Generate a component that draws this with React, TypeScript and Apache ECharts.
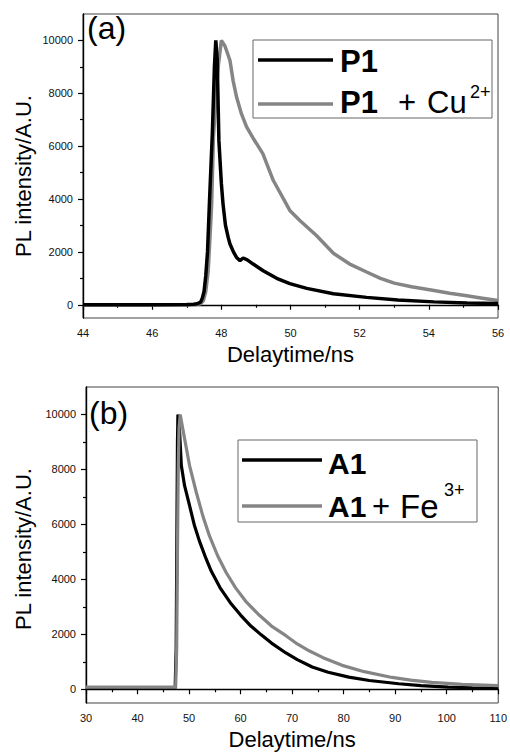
import React, { useEffect, useRef } from "react";
import * as echarts from "echarts";

// ---- Panel (a) data ----
const timeP1 = [44, 45, 46, 47, 47.2, 47.3, 47.4, 47.45, 47.5, 47.55, 47.6, 47.66, 47.74, 47.8, 47.84, 47.88, 47.93, 48.0, 48.05, 48.12, 48.2, 48.25, 48.35, 48.44, 48.54, 48.63, 48.75, 48.92, 49.21, 49.6, 49.98, 50.47, 51.24, 52.2, 53.1, 54.15, 55.1, 56];
const intP1 = [0, 0, 0, 10, 20, 40, 100, 250, 500, 1100, 2000, 4000, 6500, 9000, 10000, 9300, 6200, 4600, 3800, 3000, 2540, 2300, 2000, 1790, 1670, 1770, 1700, 1540, 1290, 1000, 800, 620, 420, 280, 180, 110, 70, 50];
const timeP1Cu = [44, 45, 46, 47, 47.3, 47.4, 47.48, 47.55, 47.62, 47.67, 47.72, 47.77, 47.85, 47.91, 48.0, 48.1, 48.15, 48.25, 48.34, 48.44, 48.58, 48.73, 48.92, 49.2, 49.5, 49.98, 50.27, 50.75, 51.24, 51.7, 52.2, 52.6, 53.0, 53.5, 54.15, 54.6, 55.1, 55.5, 56];
const intP1Cu = [0, 0, 0, 5, 15, 40, 150, 500, 1290, 2500, 3800, 6300, 8000, 9000, 10000, 9800, 9620, 9240, 8480, 7860, 7230, 6730, 6300, 5720, 4710, 3570, 3190, 2620, 1950, 1550, 1240, 1000, 820, 680, 540, 440, 340, 260, 160];

// ---- Panel (b) data ----
const timeA1 = [30, 35, 40, 45, 47.3, 47.5, 47.65, 47.75, 47.84, 48.16, 48.5, 49.13, 50.1, 51.06, 52.0, 53.3, 54.3, 56, 58, 60, 62, 64, 66, 68.8, 71, 73.9, 77, 81, 85, 90.7, 95, 100.3, 105, 110];
const intA1 = [40, 40, 40, 40, 40, 1500, 6000, 9000, 10000, 9370, 8140, 7410, 6680, 5950, 5400, 4750, 4300, 3700, 3150, 2700, 2300, 1980, 1680, 1320, 1080, 810, 620, 440, 320, 200, 130, 80, 55, 40];
const timeA1Fe = [30, 35, 40, 45, 47.4, 47.6, 47.75, 47.9, 48.05, 48.28, 49.13, 50.1, 51.4, 52.67, 53.96, 55.57, 57.2, 59, 61, 63.6, 66, 68.8, 71, 73.3, 76, 79.7, 84, 89.4, 93, 97.1, 103, 110];
const intA1Fe = [80, 80, 80, 80, 80, 1500, 5000, 8000, 9500, 10000, 9120, 8140, 7170, 6310, 5580, 4850, 4250, 3700, 3200, 2700, 2300, 1950, 1650, 1400, 1150, 870, 640, 430, 330, 250, 180, 130];

// ---- ticks ----
const yMajorTicks = [0, 2000, 4000, 6000, 8000, 10000];
const yMinorTicks = [1000, 3000, 5000, 7000, 9000];

const FONT = "Liberation Sans, Arial, sans-serif";
const GRAY = "#858585";

function pairs(t: number[], v: number[]) {
  return t.map((x, i) => [x, v[i]]);
}

function mkX(grid: number, min: number, max: number, interval: number) {
  return {
    type: "value",
    gridIndex: grid,
    min,
    max,
    interval,
    name: "Delaytime/ns",
    nameLocation: "middle",
    nameGap: 25,
    nameTextStyle: { fontSize: 22, color: "#000", fontFamily: FONT },
    axisLine: { show: true, lineStyle: { color: "#000", width: 1.4 } },
    axisTick: { show: true, inside: false, length: 5, lineStyle: { color: "#000", width: 1.2 } },
    minorTick: { show: true, splitNumber: 2, length: 3, lineStyle: { color: "#000", width: 1.2 } },
    axisLabel: { fontSize: 11, color: "#111", margin: 9, fontFamily: FONT, formatter: (v: number) => String(v) },
    splitLine: { show: false },
    minorSplitLine: { show: false },
  };
}

function mkYMajor(grid: number) {
  return {
    type: "value",
    gridIndex: grid,
    position: "left",
    min: -500,
    max: 11000,
    axisLine: { show: true, lineStyle: { color: "#000", width: 1.4 } },
    axisTick: { show: true, inside: false, length: 5, customValues: yMajorTicks, lineStyle: { color: "#000", width: 1.2 } },
    axisLabel: { fontSize: 11, color: "#111", margin: 10, fontFamily: FONT, customValues: yMajorTicks, formatter: (v: number) => String(v) },
    splitLine: { show: false },
  };
}

function mkYMinor(grid: number) {
  return {
    type: "value",
    gridIndex: grid,
    position: "left",
    offset: 0,
    min: -500,
    max: 11000,
    axisLine: { show: false },
    axisTick: { show: true, inside: false, length: 3, customValues: yMinorTicks, lineStyle: { color: "#000", width: 1.2 } },
    axisLabel: { show: false, customValues: yMinorTicks },
    splitLine: { show: false },
  };
}

function txt(x: number, y: number, text: string, size: number, opts: any = {}) {
  return {
    type: "text",
    x,
    y,
    z: 100,
    rotation: opts.rotation || 0,
    style: {
      text,
      fontSize: size,
      fontFamily: FONT,
      fontWeight: opts.bold ? "bold" : "normal",
      fill: "#000",
      align: opts.align || "left",
      verticalAlign: "middle",
    },
  };
}

function legendLine(x1: number, x2: number, y: number, color: string) {
  return {
    type: "line",
    z: 100,
    shape: { x1, y1: y, x2, y2: y },
    style: { stroke: color, lineWidth: 3.5 },
  };
}

export default function App() {
  const ref = useRef<HTMLDivElement>(null);
  useEffect(() => {
    if (!ref.current) return;
    const chart = echarts.init(ref.current, null, { renderer: "svg" });
    const option: any = {
      animation: false,
      backgroundColor: "#fff",
      grid: [
        { left: 83, top: 14, width: 415, height: 304, show: true, borderColor: "#444", borderWidth: 1, backgroundColor: "transparent" },
        { left: 86, top: 387, width: 414, height: 316, show: true, borderColor: "#444", borderWidth: 1, backgroundColor: "transparent" },
      ],
      xAxis: [mkX(0, 44, 56, 2), mkX(1, 30, 110, 10)],
      yAxis: [mkYMajor(0), mkYMinor(0), mkYMajor(1), mkYMinor(1)],
      series: [
        {
          name: "P1 + Cu2+",
          type: "line",
          xAxisIndex: 0,
          yAxisIndex: 0,
          data: pairs(timeP1Cu, intP1Cu),
          showSymbol: false,
          lineStyle: { color: GRAY, width: 3.5 },
          itemStyle: { color: GRAY },
        },
        {
          name: "P1",
          type: "line",
          xAxisIndex: 0,
          yAxisIndex: 0,
          data: pairs(timeP1, intP1),
          showSymbol: false,
          lineStyle: { color: "#000", width: 3.5 },
          itemStyle: { color: "#000" },
        },
        {
          name: "A1",
          type: "line",
          xAxisIndex: 1,
          yAxisIndex: 2,
          data: pairs(timeA1, intA1),
          showSymbol: false,
          lineStyle: { color: "#000", width: 3.2 },
          itemStyle: { color: "#000" },
        },
        {
          name: "A1 + Fe3+",
          type: "line",
          xAxisIndex: 1,
          yAxisIndex: 2,
          data: pairs(timeA1Fe, intA1Fe),
          showSymbol: false,
          lineStyle: { color: GRAY, width: 3.2 },
          itemStyle: { color: GRAY },
        },
      ],
      graphic: [
        // y-axis names
        txt(23, 176, "PL intensity/A.U.", 22, { rotation: Math.PI / 2, align: "center" }),
        txt(23, 549, "PL intensity/A.U.", 22, { rotation: Math.PI / 2, align: "center" }),
        // panel labels
        txt(87, 28, "(a)", 32),
        txt(89, 413, "(b)", 32),
        // legend (a)
        {
          type: "rect",
          z: 99,
          shape: { x: 253, y: 40, width: 239, height: 78 },
          style: { fill: "#fff", stroke: "#666", lineWidth: 1 },
        },
        legendLine(258, 333, 60, "#000"),
        legendLine(258, 333, 104, GRAY),
        txt(340, 61, "P1", 31, { bold: true }),
        txt(340, 102, "P1", 31, { bold: true }),
        txt(398, 102, "+", 31),
        txt(427, 102, "Cu", 31),
        txt(470, 92, "2+", 18),
        // legend (b)
        {
          type: "rect",
          z: 99,
          shape: { x: 238, y: 440, width: 239, height: 82 },
          style: { fill: "#fff", stroke: "#666", lineWidth: 1 },
        },
        legendLine(242, 322, 460, "#000"),
        legendLine(242, 322, 506, GRAY),
        txt(328, 463, "A1", 30, { bold: true }),
        txt(328, 506, "A1", 30, { bold: true }),
        txt(372, 506, "+", 31),
        txt(400, 506, "Fe", 33),
        txt(444, 490, "3+", 18),
      ],
    };
    chart.setOption(option);
    return () => chart.dispose();
  }, []);
  return (
    <div
      ref={ref}
      style={{ position: "absolute", left: 0, top: 0, width: 510, height: 753 }}
    />
  );
}
